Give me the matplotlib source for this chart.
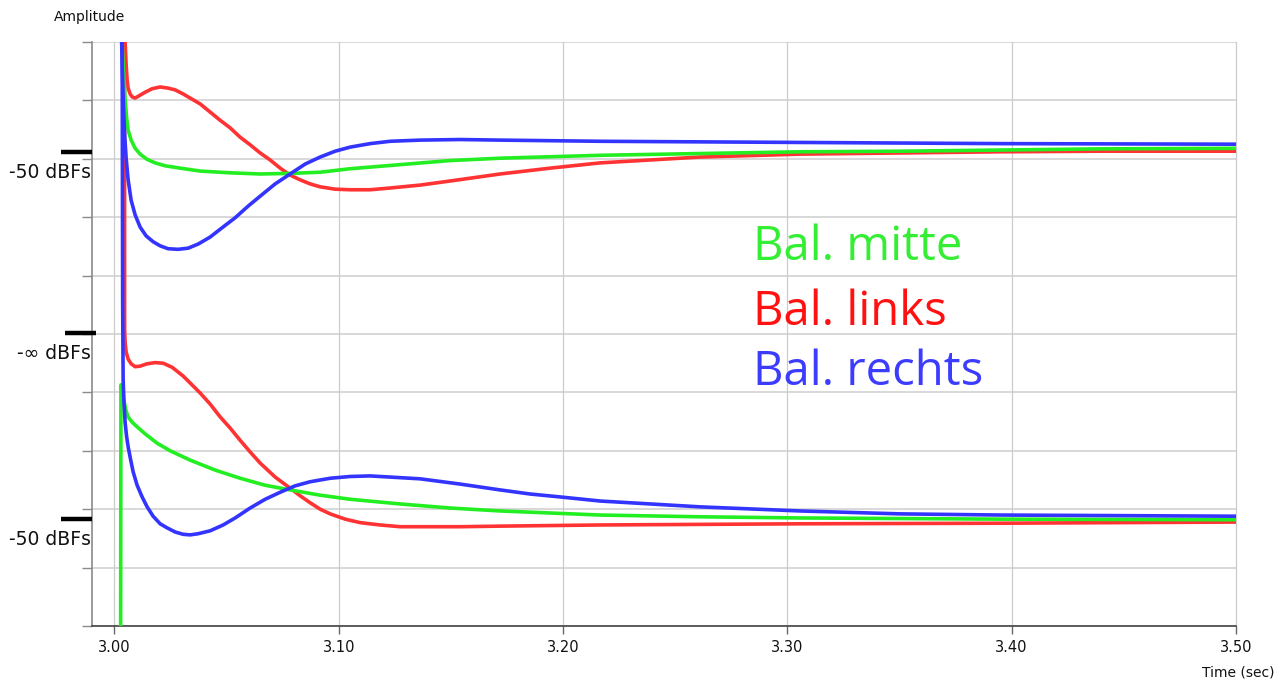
import matplotlib
matplotlib.use("Agg")
import matplotlib.pyplot as plt
from matplotlib.transforms import blended_transform_factory

# ---- data -------------------------------------------------------------
# time in seconds, level in grid units (10 divisions over the plot height)
mitte_top_t = [3.00321, 3.00343, 3.00410, 3.00477, 3.00544, 3.00611, 3.00745, 3.00923, 3.01146,
               3.01458, 3.01815, 3.02261, 3.02930, 3.03821, 3.05158, 3.06496, 3.07833, 3.09171,
               3.10508, 3.12738, 3.14967, 3.17196, 3.21654, 3.26112, 3.30571, 3.35029, 3.39487,
               3.43946, 3.50000]
mitte_top_y = [10.21, 10.00, 9.43, 9.02, 8.70, 8.49, 8.32, 8.18, 8.08,
               7.99, 7.93, 7.88, 7.84, 7.79, 7.76, 7.74, 7.75, 7.77,
               7.83, 7.90, 7.97, 8.01, 8.06, 8.09, 8.12, 8.13, 8.15,
               8.17, 8.18]

links_top_t = [3.00455, 3.00477, 3.00522, 3.00566, 3.00611, 3.00700, 3.00789, 3.00923, 3.01101,
               3.01369, 3.01681, 3.02037, 3.02394, 3.02706, 3.03063, 3.03375, 3.03821, 3.04267,
               3.04713, 3.05158, 3.05604, 3.06050, 3.06496, 3.06942, 3.07388, 3.07833, 3.08279,
               3.08725, 3.09171, 3.09840, 3.10508, 3.11400, 3.12292, 3.13629, 3.14967, 3.17196,
               3.19425, 3.21654, 3.23883, 3.26112, 3.30571, 3.35029, 3.39487, 3.43946, 3.50000]
links_top_y = [10.21, 10.00, 9.61, 9.35, 9.21, 9.11, 9.06, 9.04, 9.08,
               9.14, 9.20, 9.23, 9.21, 9.18, 9.11, 9.04, 8.94, 8.80,
               8.66, 8.53, 8.37, 8.24, 8.10, 7.98, 7.84, 7.72, 7.64,
               7.57, 7.52, 7.48, 7.47, 7.47, 7.50, 7.55, 7.62, 7.74,
               7.84, 7.93, 7.98, 8.03, 8.08, 8.10, 8.12, 8.13, 8.13]

rechts_top_t = [3.00299, 3.00321, 3.00366, 3.00410, 3.00455, 3.00522, 3.00611, 3.00745, 3.00923,
                3.01146, 3.01413, 3.01725, 3.02037, 3.02394, 3.02840, 3.03286, 3.03732, 3.04267,
                3.04802, 3.05381, 3.05961, 3.06496, 3.07165, 3.07833, 3.08502, 3.09171, 3.09840,
                3.10508, 3.11400, 3.12292, 3.13629, 3.15413, 3.17196, 3.21654, 3.26112, 3.30571,
                3.35029, 3.39487, 3.50000]
rechts_top_y = [10.21, 10.00, 9.35, 8.84, 8.41, 8.01, 7.64, 7.29, 7.04,
                6.83, 6.68, 6.58, 6.51, 6.46, 6.45, 6.47, 6.54, 6.66,
                6.82, 6.99, 7.19, 7.36, 7.57, 7.74, 7.91, 8.03, 8.13,
                8.20, 8.26, 8.30, 8.32, 8.33, 8.32, 8.30, 8.29, 8.28,
                8.27, 8.26, 8.25]

mitte_bot_t = [3.00276, 3.00290, 3.00343, 3.00432, 3.00522, 3.00611, 3.00789, 3.01012, 3.01369,
               3.01904, 3.02484, 3.03375, 3.04489, 3.05604, 3.06719, 3.07833, 3.09171, 3.10508,
               3.12738, 3.14967, 3.17196, 3.21654, 3.26112, 3.30571, 3.39487, 3.50000]
mitte_bot_y = [-0.24, 4.13, 4.01, 3.84, 3.68, 3.58, 3.49, 3.41, 3.29,
               3.13, 3.00, 2.84, 2.67, 2.53, 2.41, 2.33, 2.24, 2.17,
               2.09, 2.02, 1.97, 1.90, 1.87, 1.85, 1.83, 1.82]

links_bot_t = [3.00450, 3.00455, 3.00477, 3.00522, 3.00611, 3.00745, 3.00923, 3.01146, 3.01458,
               3.01815, 3.02172, 3.02573, 3.03063, 3.03509, 3.03821, 3.04267, 3.04713, 3.05158,
               3.05604, 3.06050, 3.06496, 3.07165, 3.07833, 3.08279, 3.08725, 3.09171, 3.09617,
               3.10285, 3.10954, 3.11846, 3.12738, 3.13629, 3.15413, 3.17196, 3.21654, 3.26112,
               3.30571, 3.39487, 3.50000]
links_bot_y = [10.21, 5.07, 4.86, 4.69, 4.57, 4.49, 4.44, 4.45, 4.49,
               4.51, 4.50, 4.43, 4.28, 4.11, 3.99, 3.80, 3.58, 3.39,
               3.18, 2.98, 2.79, 2.55, 2.36, 2.23, 2.11, 2.00, 1.92,
               1.83, 1.77, 1.73, 1.70, 1.70, 1.70, 1.71, 1.73, 1.74,
               1.75, 1.76, 1.78]

rechts_bot_t = [3.00343, 3.00366, 3.00388, 3.00432, 3.00477, 3.00544, 3.00611, 3.00700, 3.00834,
                3.01012, 3.01235, 3.01458, 3.01725, 3.02037, 3.02350, 3.02706, 3.03063, 3.03375,
                3.03732, 3.04267, 3.04846, 3.05381, 3.06050, 3.06719, 3.07388, 3.08056, 3.08725,
                3.09617, 3.10508, 3.11400, 3.12292, 3.13629, 3.15413, 3.17196, 3.18533, 3.19871,
                3.21654, 3.23883, 3.26112, 3.30571, 3.35029, 3.39487, 3.50000]
rechts_bot_y = [10.21, 5.58, 4.21, 3.78, 3.48, 3.24, 3.07, 2.89, 2.64,
                2.41, 2.21, 2.04, 1.88, 1.75, 1.68, 1.61, 1.57, 1.56,
                1.58, 1.63, 1.73, 1.85, 2.02, 2.17, 2.29, 2.40, 2.47,
                2.53, 2.56, 2.57, 2.55, 2.52, 2.43, 2.33, 2.26, 2.21,
                2.14, 2.09, 2.04, 1.97, 1.92, 1.90, 1.88]

x_ticks = [3.00, 3.10, 3.20, 3.30, 3.40, 3.50]
x_tick_labels = ["3.00", "3.10", "3.20", "3.30", "3.40", "3.50"]
ref_levels = [8.12, 5.02, 1.83]
ref_labels = ["-50 dBFs", "-\u221e dBFs", "-50 dBFs"]
series_names = ["Bal. mitte", "Bal. links", "Bal. rechts"]

GREEN = "#22ee22"
RED = "#ff3333"
BLUE = "#3434ff"
TEXT_GREEN = "#33ee33"
TEXT_RED = "#ff1111"
TEXT_BLUE = "#3c3cff"

# ---- figure -----------------------------------------------------------
fig = plt.figure(figsize=(12.84, 6.81), dpi=100)
ax = fig.add_axes([92 / 1284, 55 / 681, 1144 / 1284, 584 / 681])
ax.set_xlim(2.990, 3.500)
ax.set_ylim(0, 10)

# grid
for lvl in range(0, 11):
    ax.axhline(lvl, color="#d6d6d6", lw=1.3, zorder=0)
for xt in x_ticks:
    ax.axvline(xt, color="#cccccc", lw=0.9, zorder=0, clip_on=False)

lw = 2.6
style = dict(lw=lw, solid_joinstyle="round", solid_capstyle="round")
ax.plot(links_top_t, links_top_y, color=RED, zorder=2, **style)
ax.plot(links_bot_t, links_bot_y, color=RED, zorder=2, **style)
ax.plot(mitte_top_t, mitte_top_y, color=GREEN, zorder=3, **style)
ax.plot(mitte_bot_t, mitte_bot_y, color=GREEN, zorder=3, **style)
ax.plot(rechts_top_t, rechts_top_y, color=BLUE, zorder=4, **style)
ax.plot(rechts_bot_t, rechts_bot_y, color=BLUE, zorder=4, **style)

# spines and ticks
for side in ("top", "right"):
    ax.spines[side].set_visible(False)
ax.spines["left"].set_color("#8a8a8a")
ax.spines["left"].set_linewidth(1.2)
ax.spines["bottom"].set_color("#444444")
ax.spines["bottom"].set_linewidth(1.2)

ax.set_yticks(range(0, 11))
ax.set_yticklabels([])
ax.tick_params(axis="y", length=7, width=1, color="#8a8a8a", direction="out")
ax.set_xticks(x_ticks)
ax.set_xticklabels(x_tick_labels, fontsize=10.5, color="#111111")
ax.tick_params(axis="x", length=6, width=1, color="#666666", direction="out", pad=4)

# reference level marks on the left
trans = blended_transform_factory(ax.transAxes, ax.transData)
bar_x = [(-0.0271, 0.0), (-0.0236, 0.0035), (-0.0271, 0.0)]
for lvl, lab, (x0, x1) in zip(ref_levels, ref_labels, bar_x):
    ax.plot([x0, x1], [lvl, lvl], color="black", lw=3.2, transform=trans,
            clip_on=False, solid_capstyle="butt", zorder=5)
    ax.annotate(lab, xy=(-0.001, lvl), xycoords=trans, xytext=(0, -15),
                textcoords="offset points", ha="right", va="center",
                fontsize=13.5, color="#111111", annotation_clip=False)

# series names
name_colors = [TEXT_GREEN, TEXT_RED, TEXT_BLUE]
name_levels = [6.27, 5.15, 4.13]
for name, col, lvl in zip(series_names, name_colors, name_levels):
    ax.text(3.2845, lvl, name, color=col, fontsize=34, family="Open Sans",
            ha="left", va="baseline", zorder=6)

fig.text(54 / 1284, 1 - 17 / 681, "Amplitude", fontsize=10, ha="left", va="center",
         color="#111111")
fig.text(1274 / 1284, 8 / 681, "Time (sec)", fontsize=10, ha="right", va="center",
         color="#111111")

fig.savefig("out.png", dpi=100)
